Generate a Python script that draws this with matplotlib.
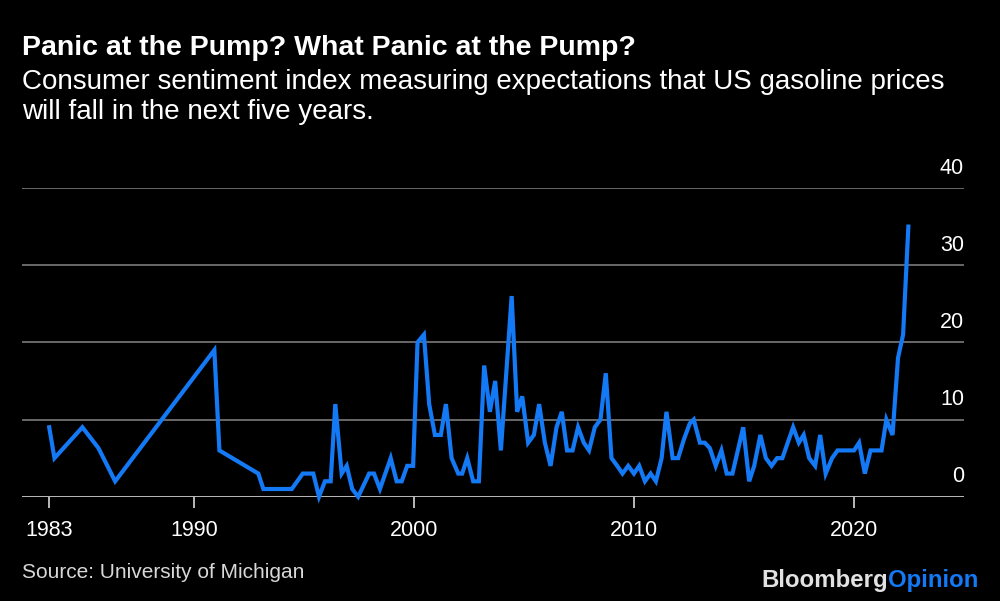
import matplotlib
matplotlib.use('Agg')
import matplotlib.pyplot as plt
import matplotlib.transforms as mtransforms

plt.rcParams['font.family'] = ['Liberation Sans', 'DejaVu Sans']

# survey dates (decimal years) and share expecting gas prices to fall
years = [1983.40, 1983.64, 1984.91, 1985.64, 1986.40, 1990.91, 1991.14, 1992.91,
         1993.14, 1994.43, 1994.93, 1995.41, 1995.67, 1995.94, 1996.20, 1996.41,
         1996.70, 1996.93, 1997.18, 1997.45, 1997.95, 1998.17, 1998.44, 1998.93,
         1999.20, 1999.43, 1999.68, 1999.95, 2000.15, 2000.44, 2000.68, 2000.94,
         2001.21, 2001.44, 2001.70, 2002.00, 2002.18, 2002.41, 2002.68, 2002.94,
         2003.18, 2003.44, 2003.68, 2003.94, 2004.43, 2004.68, 2004.91, 2005.18,
         2005.44, 2005.68, 2005.94, 2006.20, 2006.47, 2006.71, 2006.95, 2007.20,
         2007.45, 2007.71, 2007.95, 2008.21, 2008.47, 2008.71, 2008.97, 2009.23,
         2009.47, 2009.73, 2009.99, 2010.23, 2010.49, 2010.75, 2010.99, 2011.25,
         2011.47, 2011.75, 2012.00, 2012.26, 2012.53, 2012.71, 2012.99, 2013.21,
         2013.44, 2013.71, 2013.97, 2014.21, 2014.47, 2014.96, 2015.23, 2015.46,
         2015.74, 2015.99, 2016.25, 2016.50, 2016.74, 2017.23, 2017.49, 2017.71,
         2017.96, 2018.23, 2018.46, 2018.71, 2019.00, 2019.25, 2020.00, 2020.23,
         2020.49, 2020.75, 2021.25, 2021.47, 2021.75, 2022.00, 2022.23, 2022.47]
values = [9, 5, 9, 6.3, 2, 19, 6, 3,
          1, 1, 3, 3, 0, 2, 2, 12,
          3, 4, 1, 0, 3, 3, 1, 5,
          2, 2, 4, 4, 20, 21, 12, 8,
          8, 12, 5, 3, 3, 5, 2, 2,
          17, 11, 15, 6, 26, 11, 13, 7,
          8, 12, 7, 4, 9, 11, 6, 6,
          9, 7, 6, 9, 10, 16, 5, 4,
          3, 4, 3, 4, 2, 3, 2, 5,
          11, 5, 5, 7.4, 9.5, 10, 7, 7,
          6.3, 4, 6, 3, 3, 9, 2, 4,
          8, 5, 4, 5, 5, 9, 7, 8,
          5, 4, 8, 3, 5, 6, 6, 7,
          3, 6, 6, 10, 8, 18, 21, 35]

x_ticks = [1983.40, 1990, 2000, 2010, 2020]
x_labels = ['1983', '1990', '2000', '2010', '2020']
y_ticks = [0, 10, 20, 30, 40]

bg = 'black'
blue = '#1479f5'

fig = plt.figure(figsize=(10, 6.01), dpi=100, facecolor=bg)
ax = fig.add_axes([0.0217, 0.1735, 0.9423, 0.5137], facecolor=bg)

for v in y_ticks[1:]:
    ax.axhline(v, color='#707070', lw=1.3, zorder=1)
ax.axhline(0, color='#c8c8c8', lw=1.3, zorder=1)

ax.plot(years, values, color=blue, lw=3.0, solid_joinstyle='miter',
        zorder=3, clip_on=False)

ax.set_xlim(1982.15, 2025.0)
ax.set_ylim(0, 40)

for s in ax.spines.values():
    s.set_visible(False)

ax.set_yticks([])
ax.set_xticks(x_ticks)
ax.set_xticklabels(x_labels)
ax.tick_params(axis='x', colors='#c8c8c8', length=8, width=1.3, pad=9,
               labelsize=15.5, labelcolor='white')

trans = mtransforms.blended_transform_factory(ax.transAxes, ax.transData)
for v in y_ticks:
    ax.text(1.0, v + 1.85, str(v), transform=trans, ha='right', va='baseline',
            color='white', fontsize=15.5)

fig.text(0.022, 0.908, 'Panic at the Pump? What Panic at the Pump?',
         color='white', fontsize=20.5, fontweight='bold', ha='left', va='baseline')
fig.text(0.022, 0.852, 'Consumer sentiment index measuring expectations that US gasoline prices',
         color='white', fontsize=20, ha='left', va='baseline')
fig.text(0.022, 0.802, 'will fall in the next five years.',
         color='white', fontsize=20, ha='left', va='baseline')

fig.text(0.022, 0.038, 'Source: University of Michigan', color='#d8d8d8',
         fontsize=15, ha='left', va='baseline')

# logo: two colours side by side
renderer = fig.canvas.get_renderer()
t2 = fig.text(0.978, 0.024, 'Opinion', color=blue, fontsize=17.3,
              fontweight='bold', ha='right', va='baseline')
bb = t2.get_window_extent(renderer=renderer)
x_left = bb.x0 / fig.bbox.width
fig.text(x_left, 0.024, 'Bloomberg', color='#e2e2e2', fontsize=17.3,
         fontweight='bold', ha='right', va='baseline')

fig.savefig('out.png', dpi=100, facecolor=bg)
